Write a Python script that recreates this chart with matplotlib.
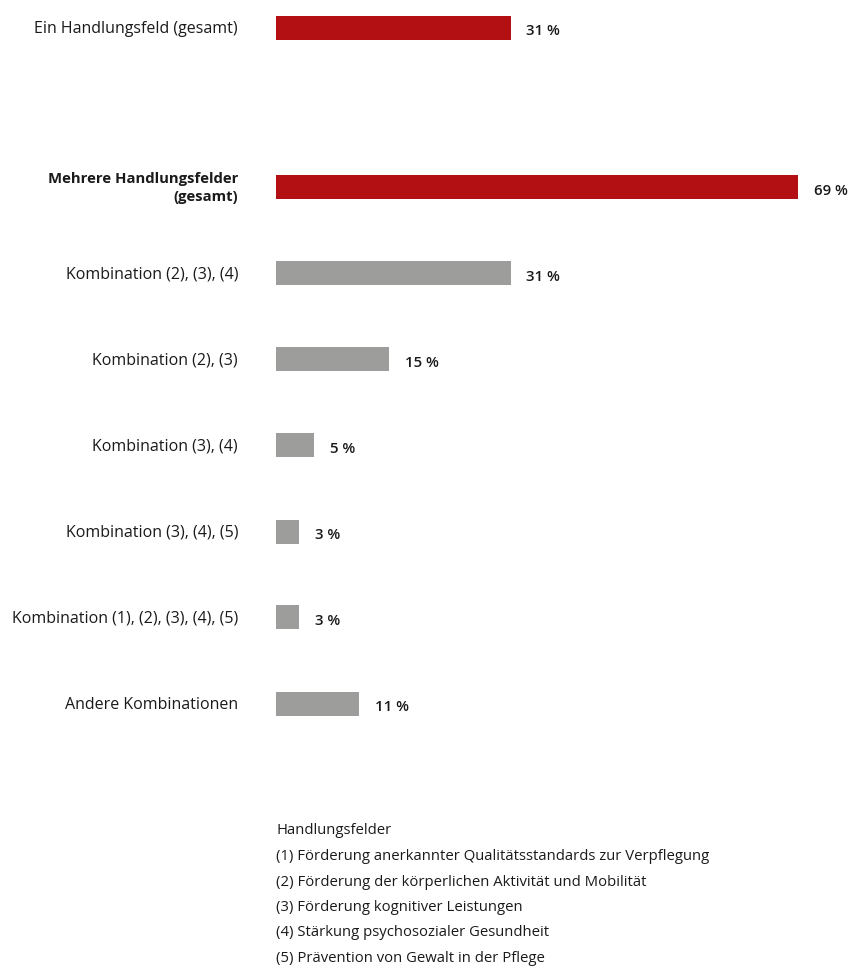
import matplotlib.pyplot as plt

plt.rcParams['font.family'] = ['Open Sans', 'DejaVu Sans']

categories = ['Ein Handlungsfeld (gesamt)',
              'Mehrere Handlungsfelder\n(gesamt)',
              'Kombination (2), (3), (4)',
              'Kombination (2), (3)',
              'Kombination (3), (4)',
              'Kombination (3), (4), (5)',
              'Kombination (1), (2), (3), (4), (5)',
              'Andere Kombinationen']
values = [31, 69, 31, 15, 5, 3, 3, 11]
is_total = [True, True, False, False, False, False, False, False]

legend_title = 'Handlungsfelder'
legend_items = ['(1) Förderung anerkannter Qualitätsstandards zur Verpflegung',
                '(2) Förderung der körperlichen Aktivität und Mobilität',
                '(3) Förderung kognitiver Leistungen',
                '(4) Stärkung psychosozialer Gesundheit',
                '(5) Prävention von Gewalt in der Pflege']

red = '#b31014'
grey = '#9d9d9c'

# vertical positions (extra gap after the first bar)
ypos = [0, 1.85, 2.85, 3.85, 4.85, 5.86, 6.85, 7.86]

fig = plt.figure(figsize=(8.52, 9.74), dpi=100)
ax = fig.add_axes([276 / 852, 0, 1 - 276 / 852, 1])
ax.set_xlim(0, 576 / 7.565)
ax.set_ylim((974 - 28) / 86, -28 / 86)
ax.axis('off')

colors = [red if t else grey for t in is_total]
ax.barh(ypos, values, height=0.27, color=colors, left=0)

for y, v, lab, t in zip(ypos, values, categories, is_total):
    ax.text(v + 2.1, y + 0.04, f'{v} %', va='center', ha='left', fontsize=10.8,
            color='#1a1a1a', fontweight='semibold')
    bold = lab.startswith('Mehrere')
    ax.annotate(lab, xy=(0, y), xytext=(-38, -1), textcoords='offset pixels',
                ha='right', va='center', fontsize=10.7 if bold else 11.5,
                color='#1a1a1a', fontweight='bold' if bold else 'normal',
                linespacing=1.3, annotation_clip=False)

fig.text(276 / 852, 1 - 831 / 974, legend_title, ha='left', va='center',
         fontsize=10.7, color='#1a1a1a')
for i, item in enumerate(legend_items):
    fig.text(276 / 852, 1 - (857 + 25.3 * i) / 974, item, ha='left',
             va='center', fontsize=10.7, color='#1a1a1a')

fig.savefig('out.png', dpi=100)
